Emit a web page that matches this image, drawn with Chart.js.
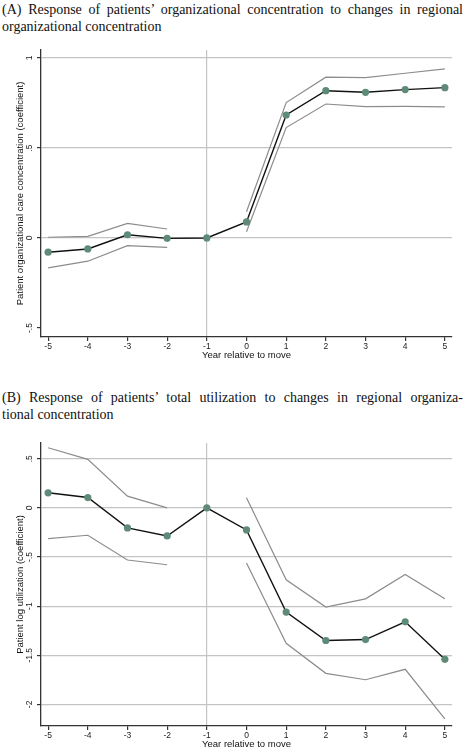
<!DOCTYPE html>
<html>
<head>
<meta charset="utf-8">
<script src="https://cdn.jsdelivr.net/npm/chart.js@4.4.0/dist/chart.umd.min.js"></script>
<style>
body { margin: 0; background: #fff; width: 465px; height: 750px; position: relative; overflow: hidden; }
.ttl { position: absolute; left: 2px; width: 461px; font-family: "Liberation Serif", serif; font-size: 14px; color: #111; line-height: 17px; }
.just { text-align: justify; text-align-last: justify; }
.box { position: absolute; left: 0; width: 465px; }
</style>
</head>
<body>
<div class="ttl just" style="top:1px">(A) Response of patients’ organizational concentration to changes in regional</div>
<div class="ttl" style="top:18px">organizational concentration</div>
<div class="box" style="top:40px;height:321px"><canvas id="concChart"></canvas></div>

<div class="ttl just" style="top:389px">(B) Response of patients’ total utilization to changes in regional organiza-</div>
<div class="ttl" style="top:406px">tional concentration</div>
<div class="box" style="top:435px;height:315px"><canvas id="utilChart"></canvas></div>

<script>
// event-study years and x ticks
const years = [-5, -4, -3, -2, -1, 0, 1, 2, 3, 4, 5];
const yearTicks = [-5, -4, -3, -2, -1, 0, 1, 2, 3, 4, 5];

// (A) organizational care concentration
const concCoef  = [-0.079, -0.061, 0.018, -0.002, 0, 0.089, 0.683, 0.818, 0.809, 0.824, 0.835];
const concUpper = [0.004, 0.009, 0.081, 0.050, null, 0.146, 0.752, 0.893, 0.891, 0.915, 0.939];
const concLower = [-0.166, -0.129, -0.043, -0.052, null, 0.035, 0.613, 0.744, 0.730, 0.731, 0.728];
const concTicks = [-0.5, 0, 0.5, 1];

// (B) log utilization
const utilCoef  = [0.153, 0.105, -0.204, -0.286, 0, -0.225, -1.061, -1.350, -1.340, -1.160, -1.541];
const utilUpper = [0.612, 0.493, 0.119, 0.000, null, 0.102, -0.732, -1.010, -0.926, -0.677, -0.926];
const utilLower = [-0.313, -0.279, -0.531, -0.579, null, -0.561, -1.378, -1.684, -1.749, -1.643, -2.147];
const utilTicks = [-2, -1.5, -1, -0.5, 0, 0.5];

const GRID = '#c4c4c4';
const AXIS = '#333';

function toPoints(arr) {
    return years.map((x, i) => ({ x: x, y: arr[i] }));
}

function fmtTick(v) {
    return String(v).replace(/^0\./, '.').replace(/^-0\./, '-.');
}

// stata-style y labels: rotated, reading upwards
const rotatedYLabels = {
    id: 'rotatedYLabels',
    afterDraw(chart) {
        const sc = chart.scales.y;
        const c = chart.ctx;
        c.save();
        c.fillStyle = '#222';
        c.font = '8.5px "Liberation Sans"';
        c.textAlign = 'center';
        c.textBaseline = 'middle';
        sc.ticks.forEach(t => {
            const y = sc.getPixelForValue(t.value);
            c.save();
            c.translate(sc.right - 11.5, y);
            c.rotate(-Math.PI / 2);
            c.fillText(fmtTick(t.value), 0, 0);
            c.restore();
        });
        c.restore();
    }
};

function makeChart(id, coef, upper, lower, ticks, yMin, yMax, yTitle, noGridAt, padTop) {
    const ctx = document.getElementById(id).getContext('2d');
    return new Chart(ctx, {
        type: 'line',
        data: {
            datasets: [
                {
                    data: toPoints(coef),
                    borderColor: '#111',
                    borderWidth: 1.4,
                    pointRadius: 3.6,
                    pointBackgroundColor: '#5e8a78',
                    pointBorderColor: '#5e8a78',
                    pointBorderWidth: 0
                },
                {
                    data: toPoints(upper),
                    borderColor: '#8c8c8c',
                    borderWidth: 1.2,
                    pointRadius: 0,
                    spanGaps: false
                },
                {
                    data: toPoints(lower),
                    borderColor: '#8c8c8c',
                    borderWidth: 1.2,
                    pointRadius: 0,
                    spanGaps: false
                }
            ]
        },
        plugins: [rotatedYLabels],
        options: {
            responsive: true,
            maintainAspectRatio: false,
            animation: false,
            events: [],
            layout: { padding: { top: padTop, right: 13, bottom: 0, left: 0 } },
            plugins: {
                legend: { display: false },
                tooltip: { enabled: false }
            },
            scales: {
                x: {
                    type: 'linear',
                    min: -5.18,
                    max: 5.18,
                    afterBuildTicks: s => { s.ticks = yearTicks.map(v => ({ value: v })); },
                    afterFit: s => { s.height = 24; },
                    grid: {
                        color: c => (c.tick && c.tick.value === -1) ? GRID : 'rgba(0,0,0,0)',
                        tickColor: AXIS,
                        tickLength: 4,
                        lineWidth: 1.2
                    },
                    border: { color: AXIS, width: 1.3 },
                    ticks: {
                        color: '#222',
                        padding: 1,
                        maxRotation: 0,
                        font: { family: 'Liberation Sans', size: 8.5 },
                        callback: v => fmtTick(v)
                    },
                    title: {
                        display: true,
                        text: 'Year relative to move',
                        color: '#111',
                        padding: 0,
                        font: { family: 'Liberation Sans', size: 9.5 }
                    }
                },
                y: {
                    type: 'linear',
                    min: yMin,
                    max: yMax,
                    afterBuildTicks: s => { s.ticks = ticks.map(v => ({ value: v })); },
                    afterFit: s => { s.width = 41; },
                    grid: {
                        color: c => (c.tick && c.tick.value === noGridAt) ? 'rgba(0,0,0,0)' : GRID,
                        tickColor: AXIS,
                        tickLength: 4,
                        lineWidth: 1.2
                    },
                    border: { color: AXIS, width: 1.3 },
                    ticks: { display: false },
                    title: {
                        display: true,
                        text: yTitle,
                        color: '#111',
                        padding: { top: 14.5, bottom: 0 },
                        font: { family: 'Liberation Sans', size: 9.5 }
                    }
                }
            }
        }
    });
}

makeChart('concChart', concCoef, concUpper, concLower, concTicks, -0.55, 1.044,
    'Patient organizational care concentration (coefficient)', -0.5, 10);
makeChart('utilChart', utilCoef, utilUpper, utilLower, utilTicks, -2.22, 0.66,
    'Patient log utilization (coefficient)', null, 8);
</script>
</body>
</html>
